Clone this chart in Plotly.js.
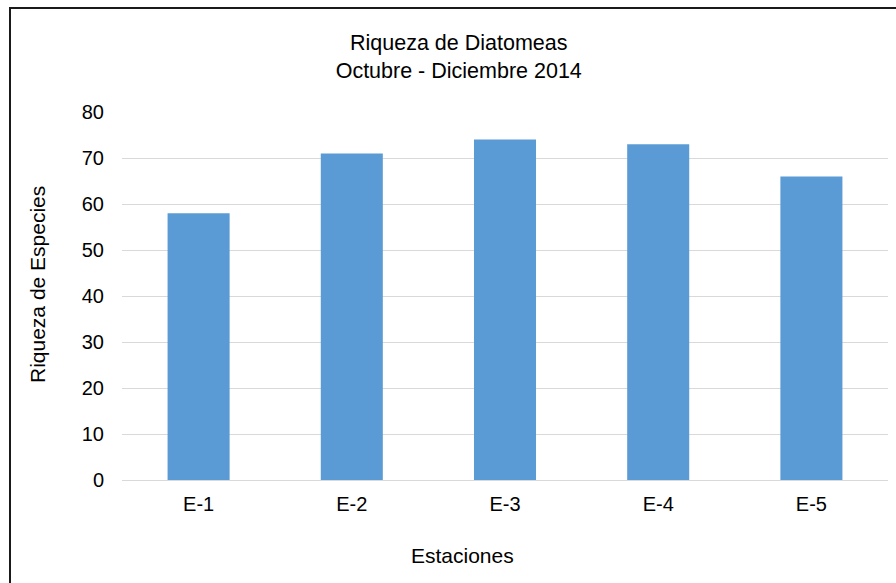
<!DOCTYPE html>
<html>
<head>
<meta charset="utf-8">
<script src="https://cdn.plot.ly/plotly-3.0.1.min.js"></script>
<style>
html,body{margin:0;padding:0;overflow:hidden;background:#fff;}
#chart{width:896px;height:583px;position:absolute;left:0;top:0;}
#frame{position:absolute;left:9px;top:7px;width:1000px;height:1000px;border:2px solid #1a1a1a;pointer-events:none;box-sizing:border-box;}
</style>
</head>
<body>
<div id="chart"></div>
<div id="frame"></div>
<script>
const categories = ['E-1', 'E-2', 'E-3', 'E-4', 'E-5'];
const riqueza = [58, 71, 74, 73, 66];
const yTicks = [0, 10, 20, 30, 40, 50, 60, 70, 80];

const font = {family: 'Liberation Sans, Arial, sans-serif', color: '#000000'};
const f = s => Object.assign({size: s}, font);

Plotly.newPlot('chart', [{
  type: 'bar',
  x: categories,
  y: riqueza,
  marker: {color: '#5B9BD5'},
  hoverinfo: 'x+y'
}], {
  width: 896, height: 583,
  margin: {l: 122, r: 8, t: 112, b: 103},
  paper_bgcolor: '#ffffff',
  plot_bgcolor: '#ffffff',
  bargap: 0.595,
  showlegend: false,
  title: {
    text: 'Riqueza de Diatomeas<br>Octubre - Diciembre 2014',
    font: f(21.5),
    xref: 'container', x: 0.512, xanchor: 'center',
    yref: 'container', y: 1 - 50/583, yanchor: 'top'
  },
  xaxis: {
    type: 'category',
    tickfont: f(20),
    showgrid: false,
    showline: false,
    zeroline: false,
    ticks: '',
    ticklabelstandoff: 10
  },
  yaxis: {
    range: [0, 80],
    tickvals: yTicks,
    ticktext: yTicks.map(String),
    tickfont: f(20),
    showgrid: true,
    gridcolor: '#d9d9d9',
    gridwidth: 1,
    zeroline: true,
    zerolinecolor: '#d9d9d9',
    showline: false,
    ticks: '',
    ticklabelstandoff: 17
  },
  annotations: [
    {text: 'Estaciones', font: f(21), showarrow: false,
     xref: 'paper', yref: 'paper', x: (462 - 122) / 766, y: (480 - 555) / 368,
     xanchor: 'center', yanchor: 'middle'},
    {text: 'Riqueza de Especies', font: f(21), showarrow: false, textangle: -90,
     xref: 'paper', yref: 'paper', x: (37 - 122) / 766, y: (480 - 285) / 368,
     xanchor: 'center', yanchor: 'middle'}
  ]
}, {displayModeBar: false});
</script>
</body>
</html>
